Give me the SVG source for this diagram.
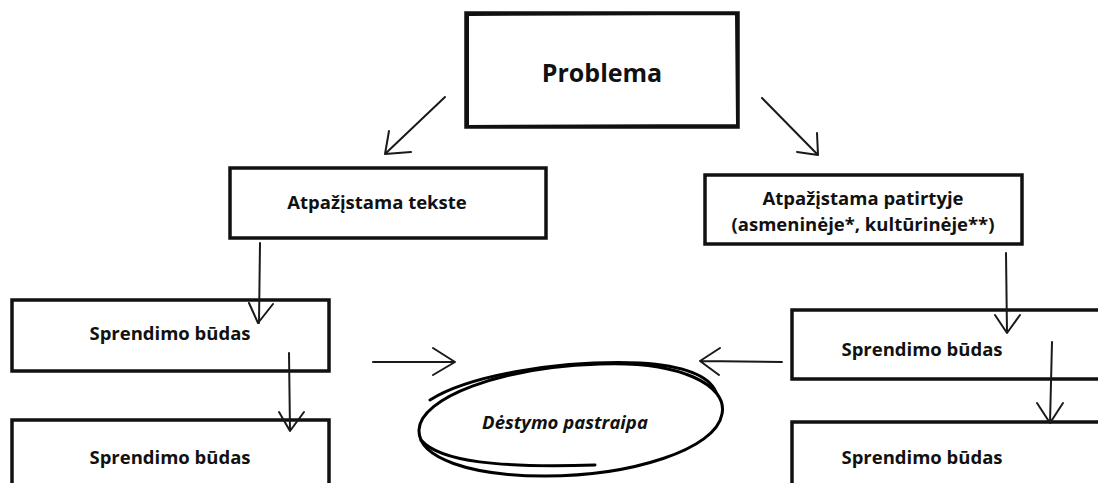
<svg xmlns="http://www.w3.org/2000/svg" width="1098" height="483" viewBox="0 0 1098 483">
<defs>
<style>
.box{fill:#fff;stroke:#111;stroke-width:3.5}
.sk{fill:none;stroke:#111;stroke-width:2}
.t{font-family:"Open Sans","Noto Sans","DejaVu Sans",sans-serif;font-weight:700;fill:#111;text-anchor:middle;font-size:18.5px}
.c{fill:none;stroke:#1a1a1a;stroke-width:2;stroke-linecap:round;stroke-linejoin:round}
.e{fill:none;stroke:#000;stroke-width:3;stroke-linecap:round}
</style>
</defs>
<rect width="1098" height="483" fill="#fff"/>
<g id="problema">
<rect class="box" x="466" y="13" width="272" height="114"/>
<path class="sk" d="M468 15 L736 14 L737 125 L468 126 Z" stroke="#333"/>
<text class="t" x="602" y="82" style="font-size:25px">Problema</text>
</g>
<g id="tekste">
<rect class="box" x="230" y="168" width="316" height="70"/>
<text class="t" x="377" y="209">Atpažįstama tekste</text>
</g>
<g id="patirtyje">
<rect class="box" x="705" y="175" width="317" height="69"/>
<text class="t" x="863" y="205">Atpažįstama patirtyje</text>
<text class="t" x="863" y="231">(asmeninėje*, kultūrinėje**)</text>
</g>
<g id="sprendimas-k1">
<rect class="box" x="12" y="300" width="317" height="71"/>
<text class="t" x="170" y="340">Sprendimo būdas</text>
</g>
<g id="sprendimas-k2">
<rect class="box" x="12" y="420" width="317" height="80"/>
<text class="t" x="170" y="464">Sprendimo būdas</text>
</g>
<g id="sprendimas-d1">
<rect class="box" x="792" y="310" width="320" height="69"/>
<text class="t" x="922" y="356">Sprendimo būdas</text>
</g>
<g id="sprendimas-d2">
<rect class="box" x="792" y="422" width="320" height="80"/>
<text class="t" x="922" y="464">Sprendimo būdas</text>
</g>
<g id="destymas">
<path class="e" d="M600 364 C680 361 728 385 722 414 C716 450 630 476 545 476 C470 476 418 458 419 430 C420 398 500 367 600 364 Z"/>
<path class="e" d="M430 400 C470 375 560 360 640 363 C690 366 710 378 716 392 M421 440 C440 462 500 468 595 465"/>
<text class="t" x="565" y="429" font-style="italic">Dėstymo pastraipa</text>
</g>
<g id="connectors">
<path class="c" d="M445 97 L385 154 M389 131 L385 154 L411 152"/>
<path class="c" d="M762 98 L818 155 M817 133 L818 155 L797 152"/>
<path class="c" d="M260 243 L259 323 M249 303 L258 323 L273 304"/>
<path class="c" d="M289 353 L290 431 M279 412 L290 431 L304 412"/>
<path class="c" d="M1006 253 L1007 333 M995 315 L1007 333 L1020 315"/>
<path class="c" d="M1052 342 L1050 423 M1037 403 L1050 423 L1063 403"/>
<path class="c" d="M373 362 L455 362 M433 348 L455 362 L433 375"/>
<path class="c" d="M782 362 L700 361 M720 348 L700 361 L719 375"/>
</g>
</svg>
